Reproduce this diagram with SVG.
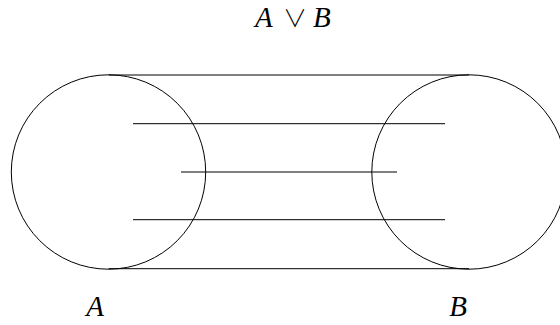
<svg xmlns="http://www.w3.org/2000/svg" width="560" height="325" viewBox="0 0 560 325">
<style>
.c{fill:none;stroke:#000;stroke-width:1}
.l{stroke:#000;stroke-width:1}
.t{font-family:"Liberation Serif","DejaVu Serif",serif;font-style:italic;font-size:29px;fill:#000}
.u{font-style:normal;font-family:"Noto Sans CJK JP","DejaVu Serif",serif;font-weight:300;font-size:24px}
</style>
<rect width="560" height="325" fill="#fff"/>
<g id="nodeA">
<circle class="c" cx="108.5" cy="172" r="97.2"/>
<text class="t" x="95" y="316" text-anchor="middle">A</text>
</g>
<g id="nodeB">
<circle class="c" cx="469" cy="172" r="97.2"/>
<text class="t" x="458" y="316" text-anchor="middle">B</text>
</g>
<g id="title">
<text class="t" x="255" y="27">A<tspan class="u" x="283">∨</tspan><tspan x="313">B</tspan></text>
</g>
<g id="connectors">
<line class="l" x1="108.5" y1="75" x2="469" y2="75"/>
<line class="l" x1="133" y1="123.7" x2="445" y2="123.7"/>
<line class="l" x1="181" y1="172" x2="397" y2="172"/>
<line class="l" x1="133" y1="219.7" x2="445" y2="219.7"/>
<line class="l" x1="108.5" y1="268.7" x2="469" y2="268.7"/>
</g>
</svg>
